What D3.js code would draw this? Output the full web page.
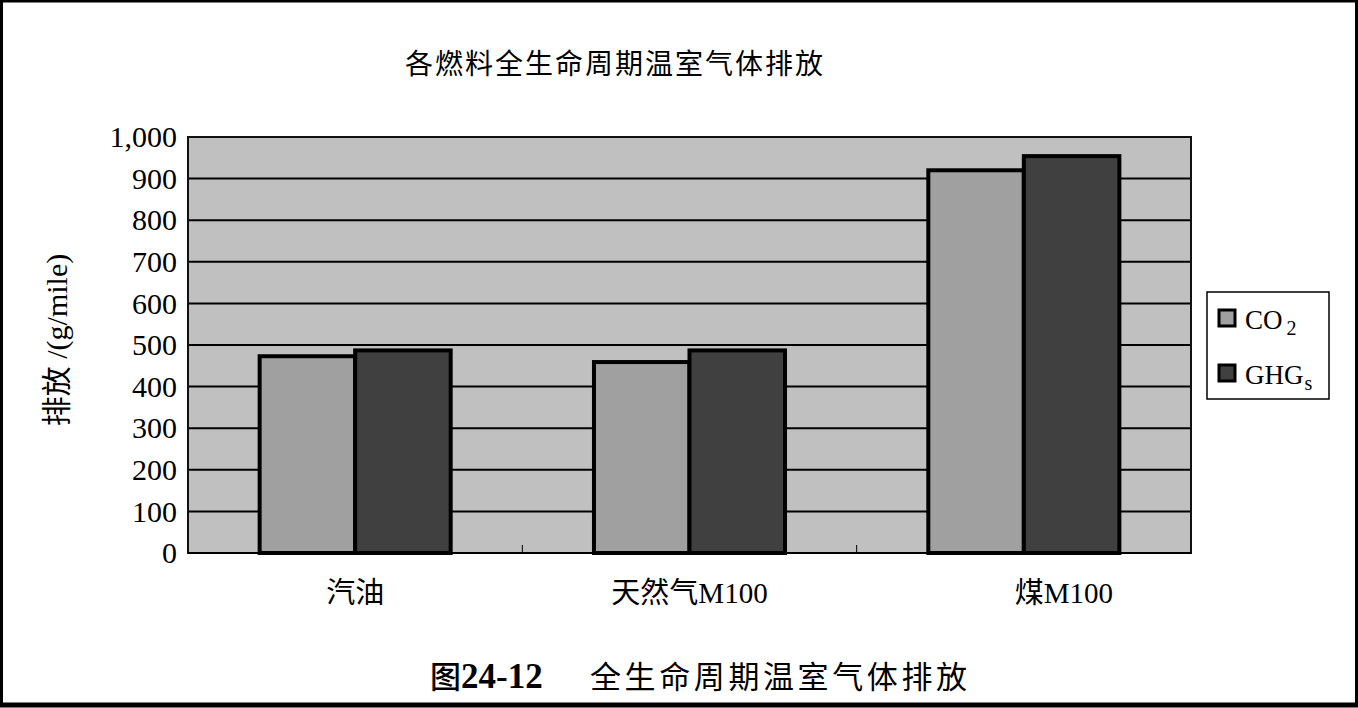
<!DOCTYPE html>
<html>
<head>
<meta charset="utf-8">
<script src="https://cdn.jsdelivr.net/npm/d3@7"></script>
<style>
  html, body { margin: 0; padding: 0; background: #fff; }
  svg { display: block; }
  text { font-family: "Liberation Serif", "Noto Sans CJK SC", serif; fill: #000; }
</style>
</head>
<body>
<svg id="chart" width="1358" height="708"></svg>
<script>
// Fuel categories and life-cycle emissions (g/mile)
const categories = ["汽油", "天然气M100", "煤M100"];
const seriesNames = ["CO2", "GHGs"];
const co2Values = [473, 459, 920];
const ghgValues = [487, 487, 954];
const yTicks = [0, 100, 200, 300, 400, 500, 600, 700, 800, 900, 1000];

const W = 1358, H = 708;
const plot = { left: 188, right: 1191, top: 137, bottom: 553 };
const colors = { CO2: "#a0a0a0", GHGs: "#404040" };

const svg = d3.select("#chart");

// Outer frame
svg.append("rect").attr("x", 1.5).attr("y", 1).attr("width", W - 3).attr("height", H - 4)
  .attr("fill", "#fff").attr("stroke", "#000").attr("stroke-width", 3);
svg.append("line").attr("x1", 0).attr("x2", W).attr("y1", 705).attr("y2", 705)
  .attr("stroke", "#000").attr("stroke-width", 5);

// Scales
const x0 = d3.scaleBand().domain(categories).range([plot.left, plot.right]).padding(0);
const x1 = d3.scaleBand().domain(seriesNames).range([0, x0.bandwidth()])
  .paddingInner(0).paddingOuter(0.75);
const y = d3.scaleLinear().domain([0, 1000]).range([plot.bottom, plot.top]);

// Plot background
svg.append("rect")
  .attr("x", plot.left).attr("y", plot.top)
  .attr("width", plot.right - plot.left).attr("height", plot.bottom - plot.top)
  .attr("fill", "#c0c0c0");

// Horizontal gridlines
svg.append("g").selectAll("line").data(yTicks.filter(d => d > 0 && d < 1000)).join("line")
  .attr("x1", plot.left).attr("x2", plot.right)
  .attr("y1", d => y(d)).attr("y2", d => y(d))
  .attr("stroke", "#000").attr("stroke-width", 2);

// Plot border
svg.append("rect")
  .attr("x", plot.left).attr("y", plot.top)
  .attr("width", plot.right - plot.left).attr("height", plot.bottom - plot.top)
  .attr("fill", "none").attr("stroke", "#111").attr("stroke-width", 2);

// Category boundary ticks along the bottom
const boundaries = categories.slice(1).map(c => x0(c));
svg.append("g").selectAll("line").data(boundaries).join("line")
  .attr("x1", d => d).attr("x2", d => d)
  .attr("y1", plot.bottom - 8).attr("y2", plot.bottom)
  .attr("stroke", "#000").attr("stroke-width", 1);

// Bars
const rows = categories.map((c, i) => ({ cat: c, vals: [
  { key: "CO2", value: co2Values[i] },
  { key: "GHGs", value: ghgValues[i] }
]}));

const groups = svg.append("g").selectAll("g").data(rows).join("g")
  .attr("transform", d => `translate(${x0(d.cat)},0)`);
groups.selectAll("rect").data(d => d.vals).join("rect")
  .attr("x", d => x1(d.key))
  .attr("y", d => y(d.value))
  .attr("width", x1.bandwidth())
  .attr("height", d => y(0) - y(d.value))
  .attr("fill", d => colors[d.key])
  .attr("stroke", "#000").attr("stroke-width", 4);

// Bottom axis line
svg.append("line").attr("x1", plot.left).attr("x2", plot.right)
  .attr("y1", plot.bottom).attr("y2", plot.bottom)
  .attr("stroke", "#000").attr("stroke-width", 2);

// Y axis labels
const yAxis = d3.axisLeft(y).tickValues(yTicks).tickFormat(d3.format(",")).tickSize(0).tickPadding(11);
const yg = svg.append("g").attr("transform", `translate(${plot.left},0)`).call(yAxis);
yg.select(".domain").remove();
yg.selectAll("text").attr("font-size", 30)
  .attr("font-family", "'Liberation Serif', serif").attr("fill", "#000");

// X category labels
const labelShift = { "煤M100": 40 };
svg.append("g").selectAll("text").data(categories).join("text")
  .attr("x", d => x0(d) + x0.bandwidth() / 2 + (labelShift[d] || 0))
  .attr("y", 603)
  .attr("text-anchor", "middle")
  .attr("font-size", 29)
  .text(d => d);

// Y axis title
svg.append("text")
  .attr("transform", "translate(67,340) rotate(-90)")
  .attr("text-anchor", "middle")
  .attr("font-size", 30)
  .text("排放 /(g/mile)");

// Chart title
svg.append("text")
  .attr("x", 615).attr("y", 74)
  .attr("text-anchor", "middle")
  .attr("font-size", 28)
  .attr("letter-spacing", 2)
  .text("各燃料全生命周期温室气体排放");

// Legend
const legend = svg.append("g");
legend.append("rect").attr("x", 1207).attr("y", 292).attr("width", 122).attr("height", 107)
  .attr("fill", "#fff").attr("stroke", "#000").attr("stroke-width", 1.5);
const legendItems = [
  { key: "CO2", main: "CO", sub: "2", y: 319 },
  { key: "GHGs", main: "GHG", sub: "s", y: 374 }
];
legendItems.forEach(it => {
  legend.append("rect").attr("x", 1219).attr("y", it.y - 9).attr("width", 16).attr("height", 16)
    .attr("fill", colors[it.key]).attr("stroke", "#000").attr("stroke-width", 3);
  const t = legend.append("text").attr("x", 1245).attr("y", it.y + 10).attr("font-size", 27);
  t.append("tspan").text(it.main);
  t.append("tspan").attr("dx", it.key === "CO2" ? 4 : 1).attr("dy", 6).attr("font-size", 20).text(it.sub);
});

// Figure caption
const cap = svg.append("text").attr("x", 430).attr("y", 688).attr("text-anchor", "start");
cap.append("tspan").attr("font-family", "'Noto Sans CJK SC', sans-serif").attr("font-weight", 500)
  .attr("font-size", 31).text("图");
cap.append("tspan").attr("font-family", "'Liberation Serif', serif").attr("font-weight", 700)
  .attr("font-size", 35).text("24-12");
cap.append("tspan").attr("x", 590).attr("font-family", "'Noto Sans CJK SC', sans-serif")
  .attr("font-weight", 400).attr("font-size", 31).attr("letter-spacing", 3.6).text("全生命周期温室气体排放");
</script>
</body>
</html>
